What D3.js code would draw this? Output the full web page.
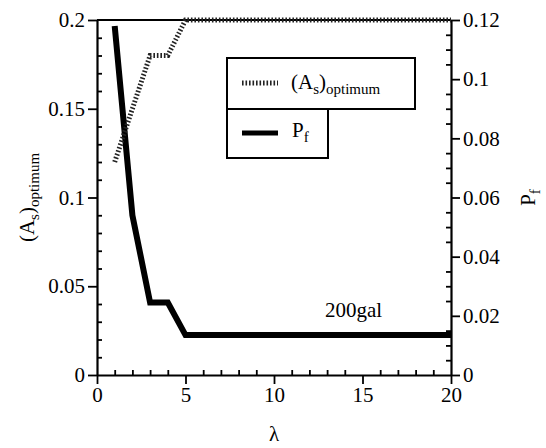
<!DOCTYPE html>
<html>
<head>
<meta charset="utf-8">
<script src="https://cdn.jsdelivr.net/npm/d3@7"></script>
<style>
  body { margin: 0; background: #fff; }
  svg { display: block; font-family: "Liberation Serif", "Times New Roman", serif; }
  .axis path { stroke: #000; stroke-width: 2.2; }
  .axis line { stroke: #000; stroke-width: 1.8; }
  .axis text { font-family: "Liberation Serif", "Times New Roman", serif; font-size: 21px; fill: #000; }
</style>
</head>
<body>
<svg width="546" height="448"></svg>
<script>
// data
const lambda = [1, 2, 3, 4, 5, 6, 7, 8, 9, 10, 11, 12, 13, 14, 15, 16, 17, 18, 19, 20];
const asOptimum = [0.12, 0.15, 0.18, 0.18, 0.2, 0.2, 0.2, 0.2, 0.2, 0.2, 0.2, 0.2, 0.2, 0.2, 0.2, 0.2, 0.2, 0.2, 0.2, 0.2];
const pf = [0.118, 0.054, 0.0245, 0.0245, 0.0135, 0.0135, 0.0135, 0.0135, 0.0135, 0.0135, 0.0135, 0.0135, 0.0135, 0.0135, 0.0135, 0.0135, 0.0135, 0.0135, 0.0135, 0.0135];

// tick labels
const xTicks = [0, 5, 10, 15, 20];
const xTickLabels = ["0", "5", "10", "15", "20"];
const leftTicks = [0, 0.05, 0.1, 0.15, 0.2];
const leftTickLabels = ["0", "0.05", "0.1", "0.15", "0.2"];
const rightTicks = [0, 0.02, 0.04, 0.06, 0.08, 0.1, 0.12];
const rightTickLabels = ["0", "0.02", "0.04", "0.06", "0.08", "0.1", "0.12"];
const xMinor = [1, 2, 3, 4, 6, 7, 8, 9, 11, 12, 13, 14, 16, 17, 18, 19];
const leftMinor = [0.01, 0.02, 0.03, 0.04, 0.06, 0.07, 0.08, 0.09, 0.11, 0.12, 0.13, 0.14, 0.16, 0.17, 0.18, 0.19];
const rightMinor = [0.005, 0.01, 0.015, 0.025, 0.03, 0.035, 0.045, 0.05, 0.055, 0.065, 0.07, 0.075, 0.085, 0.09, 0.095, 0.105, 0.11, 0.115];

// chart dimensions
const margin = { top: 20, right: 95, bottom: 73, left: 97 };
const width = 546 - margin.left - margin.right;
const height = 448 - margin.top - margin.bottom;
const serif = "Liberation Serif, Times New Roman, serif";

const x = d3.scaleLinear().domain([0, 20]).range([0, width]);
const yL = d3.scaleLinear().domain([0, 0.2]).range([height, 0]);
const yR = d3.scaleLinear().domain([0, 0.12]).range([height, 0]);

const svg = d3.select("svg")
  .append("g")
  .attr("transform", "translate(" + margin.left + "," + margin.top + ")");

// minor ticks (inside)
svg.append("g").attr("class", "axis")
  .attr("transform", "translate(0," + height + ")")
  .call(d3.axisBottom(x).tickValues(xMinor).tickSize(-5).tickFormat(""))
  .select(".domain").remove();
svg.append("g").attr("class", "axis")
  .call(d3.axisLeft(yL).tickValues(leftMinor).tickSize(-5).tickFormat(""))
  .select(".domain").remove();
svg.append("g").attr("class", "axis")
  .attr("transform", "translate(" + width + ",0)")
  .call(d3.axisRight(yR).tickValues(rightMinor).tickSize(-5).tickFormat(""))
  .select(".domain").remove();

// major axes
svg.append("g").attr("class", "axis")
  .attr("transform", "translate(0," + height + ")")
  .call(d3.axisBottom(x).tickValues(xTicks).tickSizeInner(9).tickSizeOuter(0).tickPadding(3)
    .tickFormat((d, i) => xTickLabels[i]))
  .attr("font-family", serif).attr("font-size", 21);
svg.append("g").attr("class", "axis")
  .call(d3.axisLeft(yL).tickValues(leftTicks).tickSizeInner(9).tickSizeOuter(0).tickPadding(3)
    .tickFormat((d, i) => leftTickLabels[i]))
  .attr("font-family", serif).attr("font-size", 21);
svg.append("g").attr("class", "axis")
  .attr("transform", "translate(" + width + ",0)")
  .call(d3.axisRight(yR).tickValues(rightTicks).tickSizeInner(9).tickSizeOuter(0).tickPadding(3)
    .tickFormat((d, i) => rightTickLabels[i]))
  .attr("font-family", serif).attr("font-size", 21);

// top frame
svg.append("line")
  .attr("x1", 0).attr("x2", width).attr("y1", 0).attr("y2", 0)
  .attr("stroke", "#000").attr("stroke-width", 2.2);

// lines
const pfLine = d3.line().x((d, i) => x(lambda[i])).y(d => yR(d));
const asLine = d3.line().x((d, i) => x(lambda[i])).y(d => yL(d));

svg.append("path")
  .datum(pf)
  .attr("d", pfLine)
  .attr("fill", "none")
  .attr("stroke", "#000")
  .attr("stroke-width", 6);

svg.append("path")
  .datum(asOptimum)
  .attr("d", asLine)
  .attr("fill", "none")
  .attr("stroke", "#222")
  .attr("stroke-width", 5)
  .attr("stroke-dasharray", "1.6,1.9");

// legend
const legend = svg.append("g").attr("transform", "translate(130,38)");
legend.append("rect")
  .attr("x", 0).attr("y", 0).attr("width", 188).attr("height", 51)
  .attr("fill", "#fff").attr("stroke", "#000").attr("stroke-width", 2);
legend.append("rect")
  .attr("x", 0).attr("y", 51).attr("width", 101).attr("height", 49)
  .attr("fill", "#fff").attr("stroke", "#000").attr("stroke-width", 2);
legend.append("line")
  .attr("x1", 15).attr("x2", 51).attr("y1", 25).attr("y2", 25)
  .attr("stroke", "#222").attr("stroke-width", 5).attr("stroke-dasharray", "1.6,1.9");
legend.append("line")
  .attr("x1", 15).attr("x2", 51).attr("y1", 75).attr("y2", 75)
  .attr("stroke", "#000").attr("stroke-width", 5);

const t1 = legend.append("text").attr("x", 64).attr("y", 31).attr("font-size", 21);
t1.append("tspan").text("(A");
t1.append("tspan").attr("font-size", 15).attr("dy", 5).text("s");
t1.append("tspan").attr("dy", -5).text(")");
t1.append("tspan").attr("font-size", 15).attr("dy", 5).text("optimum");

const t2 = legend.append("text").attr("x", 65).attr("y", 79).attr("font-size", 21);
t2.append("tspan").text("P");
t2.append("tspan").attr("font-size", 15).attr("dy", 5).text("f");

// annotation
svg.append("text")
  .attr("x", 228).attr("y", 297)
  .attr("font-size", 21)
  .text("200gal");

// axis titles
svg.append("text")
  .attr("x", width / 2).attr("y", height + 66)
  .attr("text-anchor", "middle")
  .attr("font-size", 21)
  .text("λ");

const yt = svg.append("text")
  .attr("transform", "translate(-63," + (height / 2) + ") rotate(-90)")
  .attr("text-anchor", "middle")
  .attr("font-size", 21);
yt.append("tspan").text("(A");
yt.append("tspan").attr("font-size", 15).attr("dy", 5).text("s");
yt.append("tspan").attr("dy", -5).text(")");
yt.append("tspan").attr("font-size", 15).attr("dy", 5).text("optimum");

const yt2 = svg.append("text")
  .attr("transform", "translate(" + (width + 84) + "," + (height / 2) + ") rotate(-90)")
  .attr("text-anchor", "middle")
  .attr("font-size", 21);
yt2.append("tspan").text("P");
yt2.append("tspan").attr("font-size", 15).attr("dy", 5).text("f");
</script>
</body>
</html>
